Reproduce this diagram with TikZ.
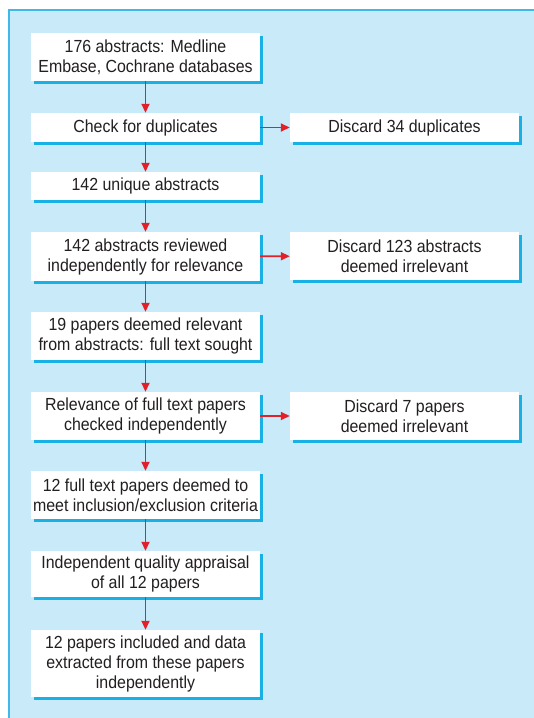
\documentclass[tikz,border=0pt]{standalone}
\usepackage{fontspec}
\setmainfont{Liberation Sans}[FakeStretch=0.91]
\usetikzlibrary{arrows.meta,positioning,shadows}
\definecolor{panel}{HTML}{C8EAF9}
\definecolor{rim}{HTML}{3FB8EC}
\definecolor{shade}{HTML}{19B0E6}
\definecolor{arrowred}{HTML}{E3202A}
\definecolor{ink}{HTML}{231F20}

\tikzset{
  box/.style={fill=white, align=center, minimum width=229pt, inner sep=0pt,
    text=ink, font=\fontsize{17.5}{20}\selectfont,
    drop shadow={shadow xshift=3pt, shadow yshift=-3pt, fill=shade, opacity=1}},
  link/.style={draw=arrowred, line width=1.7pt, -{Triangle[length=9pt,width=8pt]}}
}

\begin{document}
\begin{tikzpicture}[x=1pt,y=-1pt]
\useasboundingbox (0,0) rectangle (534,718);
\fill[panel] (9,10) rectangle (534,718);
\draw[rim, line width=1.2pt] (9,718) -- (9,10) -- (534,10);

% main column
\node[box, minimum height=48pt] (abs)   at (145.5,57)  {176 abstracts: Medline\\Embase, Cochrane databases};
\node[box, minimum height=29pt] (check) at (145.5,127.5) {Check for duplicates};
\node[box, minimum height=28pt] (uniq)  at (145.5,186)  {142 unique abstracts};
\node[box, minimum height=49pt] (rev)   at (145.5,256.5) {142 abstracts reviewed\\independently for relevance};
\node[box, minimum height=48pt] (rel)   at (145.5,336)  {19 papers deemed relevant\\from abstracts: full text sought};
\node[box, minimum height=48pt] (full)  at (145.5,416)  {Relevance of full text papers\\checked independently};
\node[box, minimum height=48pt] (crit)  at (145.5,495)  {12 full text papers deemed to\\meet inclusion/exclusion criteria};
\node[box, minimum height=46pt] (qual)  at (145.5,574)  {Independent quality appraisal\\of all 12 papers};
\node[box, minimum height=67pt] (incl)  at (145.5,663.5) {12 papers included and data\\extracted from these papers\\independently};

% discards
\node[box, minimum height=29pt] (dup)  at (404.5,127.5) {Discard 34 duplicates};
\node[box, minimum height=48pt] (irr)  at (404.5,256)   {Discard 123 abstracts\\deemed irrelevant};
\node[box, minimum height=48pt] (irr2) at (404.5,416)   {Discard 7 papers\\deemed irrelevant};

\draw[link] (abs) -- (check);
\draw[link] (check) -- (uniq);
\draw[link] (uniq) -- (rev);
\draw[link] (rev) -- (rel);
\draw[link] (rel) -- (full);
\draw[link] (full) -- (crit);
\draw[link] (crit) -- (qual);
\draw[link] (qual) -- (incl);
\draw[link] (check) -- (dup);
\draw[link] (rev) -- (irr);
\draw[link] (full) -- (irr2);
\end{tikzpicture}
\end{document}
